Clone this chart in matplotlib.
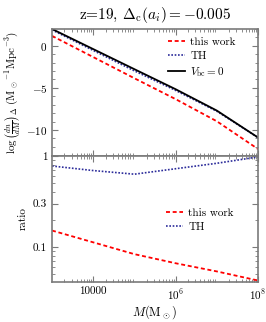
import matplotlib
matplotlib.use('Agg')
import matplotlib.pyplot as plt
import matplotlib.ticker as ticker
import numpy as np

plt.rcParams['font.family'] = 'serif'
plt.rcParams['font.serif'] = ['cmr10', 'DejaVu Serif']
plt.rcParams['mathtext.fontset'] = 'cm'
plt.rcParams['axes.formatter.use_mathtext'] = True
plt.rcParams['axes.unicode_minus'] = True

# halo masses (Msun)
mass = [1e3, 1e4, 1e5, 1e6, 1e7, 1e8]

# log(dn/dM) in Msun^-1 Mpc^-3
vbc0 = [2.00, -0.39, -2.78, -5.16, -7.70, -10.90]
th = [1.89, -0.55, -2.98, -5.30, -7.78, -10.91]
this_work = [1.18, -1.34, -3.86, -6.34, -8.97, -12.27]

title = r'z=19, $\Delta_{\rm c}(a_i)=-0.005$'
xtick_vals = [1e4, 1e6, 1e8]
xtick_labels = ['10000', r'$10^6$', r'$10^8$']

frame_col = '#7a7a7a'
red_dash = (0, (2.2, 1.5))
blue_dot = (0, (1, 1))

fig = plt.figure(figsize=(2.66, 3.22), dpi=100)
ax1 = fig.add_axes([0.1955, 0.5155, 0.7745, 0.3945])
ax2 = fig.add_axes([0.1955, 0.124, 0.7745, 0.3915], sharex=ax1)

m = np.array(mass)
ax1.plot(m, this_work, color='red', ls=red_dash, lw=1.3, label='this work')
ax1.plot(m, th, color='#2b2b9a', ls=blue_dot, lw=1.2, label='TH')
ax1.plot(m, vbc0, color='black', lw=1.3, label=r'$V_{\rm bc}=0$')

ratio_tw = 10 ** (np.array(this_work) - np.array(vbc0))
ratio_th = 10 ** (np.array(th) - np.array(vbc0))
ax2.plot(m, ratio_tw, color='red', ls=red_dash, lw=1.3, label='this work')
ax2.plot(m, ratio_th, color='#2b2b9a', ls=blue_dot, lw=1.2, label='TH')

ax1.set_xscale('log')
ax1.set_xlim(1e3, 1e8)
ax1.set_ylim(-13.1, 2.0)
ax1.yaxis.set_major_locator(ticker.MultipleLocator(5))
ax1.yaxis.set_minor_locator(ticker.MultipleLocator(1))
ax1.tick_params(labelbottom=False)

ax2.set_yscale('log')
ax2.set_ylim(0.041, 1.0)
ax2.yaxis.set_major_locator(ticker.FixedLocator([0.1, 0.3, 1.0]))
ax2.yaxis.set_major_formatter(ticker.FixedFormatter(['0.1', '0.3', '1']))
ax2.yaxis.set_minor_locator(ticker.LogLocator(base=10, subs=np.arange(2, 10)))
ax2.yaxis.set_minor_formatter(ticker.NullFormatter())

ax2.set_xticks(xtick_vals)
ax2.set_xticklabels(xtick_labels)
ax2.xaxis.set_minor_locator(ticker.LogLocator(base=10, subs=np.arange(2, 10), numticks=20))
ax2.xaxis.set_minor_formatter(ticker.NullFormatter())

for ax in (ax1, ax2):
    for sp in ax.spines.values():
        sp.set_color(frame_col)
        sp.set_linewidth(1.2)
    ax.tick_params(which='both', direction='in', top=True, right=True,
                   color=frame_col, labelsize=8)
    ax.tick_params(which='major', length=4, width=0.8)
    ax.tick_params(which='minor', length=2, width=0.6)

ax1.set_title(title, fontsize=11, pad=7)
ax1.set_ylabel(r'$\log\left(\frac{dn}{dM}\right)_\Delta\ ({\rm M_\odot}^{-1}{\rm Mpc}^{-3})$',
               fontsize=8, labelpad=2)
ax2.set_ylabel('ratio', fontsize=8, labelpad=4)
ax2.set_xlabel(r'$M({\rm M_\odot})$', fontsize=9, labelpad=1)

ax1.legend(loc='upper right', bbox_to_anchor=(0.93, 1.0), frameon=False,
           fontsize=8, handlelength=1.5, handletextpad=0.5, labelspacing=0.4,
           borderaxespad=0.3)
ax2.legend(loc='center right', bbox_to_anchor=(0.93, 0.49), frameon=False,
           fontsize=8, handlelength=1.5, handletextpad=0.5, labelspacing=0.4)

fig.savefig('out.png', dpi=100)
